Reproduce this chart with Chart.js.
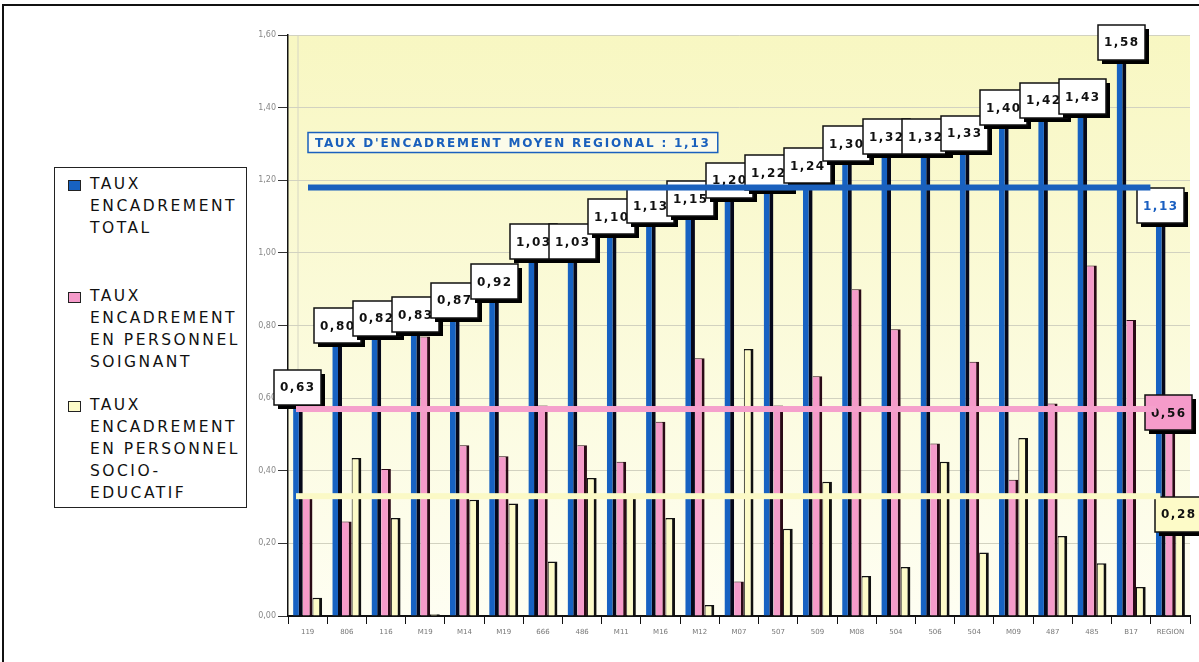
<!DOCTYPE html>
<html>
<head>
<meta charset="utf-8">
<script src="https://cdn.jsdelivr.net/npm/chart.js@4.4.0/dist/chart.umd.min.js"></script>
<style>
  html, body { margin: 0; padding: 0; background: #fff; overflow: hidden; }
  #cadre { position: absolute; left: 2px; top: 4px; width: 1210px; height: 700px; z-index: 5;
           border-left: 2px solid #111; border-top: 2px solid #111; pointer-events: none; }
  #zone { position: absolute; left: 0; top: 0; width: 1199px; height: 662px; }
  #legende { position: absolute; left: 54px; top: 167px; width: 193px; height: 341px;
             border: 1.5px solid #222; background: #fff; box-sizing: border-box; }
  .item { position: absolute; left: 0; }
  .carre { position: absolute; left: 13px; top: 7px; width: 11px; height: 9px; border: 1px solid #222; }
  .texte { position: absolute; left: 35px; top: 0; font-family: "DejaVu Sans", sans-serif;
           font-size: 15.5px; line-height: 22px; letter-spacing: 2.5px; color: #111; white-space: nowrap; }
</style>
</head>
<body>
<div id="zone"><canvas id="graf" width="1199" height="662"></canvas></div>
<div id="legende"></div>
<div id="cadre"></div>
<script>
// etablissements
const categorias = ['119','806','116','M19','M14','M19','666','486','M11','M16','M12','M07',
  '507','509','M08','504','506','504','M09','487','485','B17','REGION'];
// taux d'encadrement
const tauxTotal = [0.63,0.80,0.82,0.83,0.87,0.92,1.03,1.03,1.10,1.13,1.15,1.20,
  1.22,1.24,1.30,1.32,1.32,1.33,1.40,1.42,1.43,1.58,1.13];
const tauxSoignant = [0.33,0.26,0.405,0.77,0.47,0.44,0.58,0.47,0.425,0.535,0.71,0.095,
  0.58,0.66,0.90,0.79,0.475,0.70,0.375,0.585,0.965,0.815,0.56];
const tauxSocio = [0.05,0.435,0.27,0.005,0.32,0.31,0.15,0.38,0.33,0.27,0.03,0.735,
  0.24,0.37,0.11,0.135,0.425,0.175,0.49,0.22,0.145,0.08,0.28];
// lignes des moyennes regionales (total, soignant, socio-educatif)
const moyennes = [1.18, 0.57, 0.33];
const titreMoyenne = "TAUX D'ENCADREMENT MOYEN REGIONAL : 1,13";
const nomsSeries = [
  ['TAUX', 'ENCADREMENT', 'TOTAL'],
  ['TAUX', 'ENCADREMENT', 'EN PERSONNEL', 'SOIGNANT'],
  ['TAUX', 'ENCADREMENT', 'EN PERSONNEL', 'SOCIO-', 'EDUCATIF']
];
const ticksY = [0, 0.2, 0.4, 0.6, 0.8, 1.0, 1.2, 1.4, 1.6];

const bleu = '#1762c2';
const rose = '#f59bca';
const jaune = '#fdfbc8';

function virgule(v) {
  return v.toFixed(2).replace('.', ',');
}

// legende en html
function legende() {
  const boite = document.getElementById('legende');
  const couleurs = [bleu, rose, jaune];
  const hauts = [5, 117, 226];
  nomsSeries.forEach((lignes, i) => {
    const item = document.createElement('div');
    item.className = 'item';
    item.style.top = hauts[i] + 'px';
    const carre = document.createElement('div');
    carre.className = 'carre';
    carre.style.background = couleurs[i];
    const texte = document.createElement('div');
    texte.className = 'texte';
    texte.innerHTML = lignes.join('<br>');
    item.appendChild(carre);
    item.appendChild(texte);
    boite.appendChild(item);
  });
}

const fond = {
  id: 'fond',
  beforeDraw(chart) {
    const ctx = chart.ctx;
    const a = chart.chartArea;
    ctx.save();
    ctx.fillStyle = '#fff';
    ctx.fillRect(0, 0, chart.width, chart.height);
    const g = ctx.createLinearGradient(0, a.top, 0, a.bottom);
    g.addColorStop(0, '#f8f7c2');
    g.addColorStop(1, '#fefef2');
    ctx.fillStyle = g;
    ctx.fillRect(a.left, a.top, a.right - a.left, a.bottom - a.top);
    ctx.strokeStyle = '#d6d6c4';
    ctx.lineWidth = 1;
    ctx.beginPath();
    ctx.moveTo(a.left + 10, a.top);
    ctx.lineTo(a.left + 10, a.bottom);
    ctx.stroke();
    ctx.restore();
  }
};

function boite(ctx, cx, cy, txt, bg, fg) {
  const w = 47, h = 35;
  const x = Math.round(cx - w / 2), y = Math.round(cy - h / 2);
  ctx.fillStyle = '#000';
  ctx.fillRect(x + 4, y + 4, w, h);
  ctx.fillStyle = bg;
  ctx.fillRect(x, y, w, h);
  ctx.strokeStyle = '#111';
  ctx.lineWidth = 1.5;
  ctx.strokeRect(x, y, w, h);
  ctx.save();
  ctx.beginPath();
  ctx.rect(x, y, w, h);
  ctx.clip();
  ctx.fillStyle = fg;
  ctx.font = 'bold 12px "DejaVu Sans"';
  ctx.letterSpacing = '1.5px';
  ctx.textBaseline = 'middle';
  ctx.textAlign = 'left';
  ctx.fillText(txt, x + 6, cy + 1);
  ctx.restore();
}

const etiquettes = {
  id: 'etiquettes',
  afterDatasetsDraw(chart) {
    const ctx = chart.ctx;
    const a = chart.chartArea;
    const ys = chart.scales.y;
    const xs = chart.scales.x;
    const n = categorias.length;
    ctx.save();
    // boites des valeurs totales
    const barres = chart.getDatasetMeta(0).data;
    barres.forEach((b, i) => {
      const reg = i === n - 1;
      boite(ctx, b.x, ys.getPixelForValue(tauxTotal[i]), virgule(tauxTotal[i]), '#fff', reg ? '#1a5fc0' : '#111');
    });
    // boites region soignant / socio
    const bR = chart.getDatasetMeta(1).data[n - 1];
    boite(ctx, bR.x - 2, ys.getPixelForValue(tauxSoignant[n - 1]), virgule(tauxSoignant[n - 1]), rose, '#111');
    const bJ = chart.getDatasetMeta(2).data[n - 1];
    boite(ctx, bJ.x - 2, ys.getPixelForValue(tauxSocio[n - 1]), virgule(tauxSocio[n - 1]), jaune, '#111');

    // lignes des moyennes
    const xReg = xs.getPixelForValue(n - 1);
    const lignes = [
      { v: moyennes[0], c: '#1a60bd', x0: a.left + 20, x1: xReg - 20 },
      { v: moyennes[1], c: '#f5a0cc', x0: a.left + 8, x1: xReg - 14 },
      { v: moyennes[2], c: '#fbf9c6', x0: a.left + 8, x1: xReg - 10 }
    ];
    lignes.forEach(l => {
      const y = ys.getPixelForValue(l.v);
      ctx.fillStyle = l.c;
      ctx.fillRect(l.x0, y - 3, l.x1 - l.x0, 6);
    });

    // cartouche du titre
    const yT = ys.getPixelForValue(moyennes[0]) - 45;
    ctx.font = 'bold 12px "DejaVu Sans"';
    ctx.letterSpacing = '1.8px';
    const lw = ctx.measureText(titreMoyenne).width;
    const x0 = a.left + 20;
    ctx.fillStyle = '#fbfbea';
    ctx.fillRect(x0, yT - 10, lw + 14, 20);
    ctx.strokeStyle = '#1a60bd';
    ctx.lineWidth = 1.5;
    ctx.strokeRect(x0, yT - 10, lw + 14, 20);
    ctx.fillStyle = '#1a60bd';
    ctx.textBaseline = 'middle';
    ctx.textAlign = 'left';
    ctx.fillText(titreMoyenne, x0 + 7, yT + 1);
    ctx.restore();
  }
};

function graficar() {
  const ctx = document.getElementById('graf');
  return new Chart(ctx, {
    type: 'bar',
    data: {
      labels: categorias,
      datasets: [
        {
          label: 'TAUX ENCADREMENT TOTAL',
          data: tauxTotal,
          backgroundColor: bleu,
          borderColor: '#06081a',
          borderWidth: { top: 0, right: 4, bottom: 0, left: 0 },
          borderSkipped: false
        },
        {
          label: 'TAUX ENCADREMENT EN PERSONNEL SOIGNANT',
          data: tauxSoignant,
          backgroundColor: rose,
          borderColor: '#2a0a16',
          borderWidth: { top: 1, right: 3, bottom: 0, left: 0 },
          borderSkipped: false
        },
        {
          label: 'TAUX ENCADREMENT EN PERSONNEL SOCIO-EDUCATIF',
          data: tauxSocio,
          backgroundColor: jaune,
          borderColor: '#111',
          borderWidth: { top: 1.5, right: 3, bottom: 0, left: 1 },
          borderSkipped: false
        }
      ]
    },
    options: {
      responsive: false,
      animation: false,
      events: [],
      layout: { padding: { top: 35, right: 9, left: 0, bottom: 0 } },
      datasets: { bar: { barPercentage: 1.0, categoryPercentage: 0.74 } },
      plugins: {
        legend: { display: false },
        tooltip: { enabled: false },
        title: { display: false }
      },
      scales: {
        x: {
          afterFit(s) { s.height = 46; },
          grid: { drawOnChartArea: false, drawTicks: true, tickLength: 8, tickColor: '#111', offset: true },
          border: { color: '#111', width: 2 },
          ticks: { color: '#777', font: { family: 'DejaVu Sans', size: 7 }, padding: 4, maxRotation: 0, autoSkip: false }
        },
        y: {
          min: 0,
          max: 1.6,
          afterFit(s) { s.width = 288; },
          afterBuildTicks(s) { s.ticks = ticksY.map(v => ({ value: v })); },
          grid: { color: '#d2d2c0', lineWidth: 1, tickColor: '#333', tickLength: 10 },
          border: { color: '#111', width: 1.5 },
          ticks: {
            color: '#888',
            font: { family: 'DejaVu Sans', size: 8 },
            padding: 2,
            callback: v => virgule(v)
          }
        }
      }
    },
    plugins: [fond, etiquettes]
  });
}

legende();
graficar();
</script>
</body>
</html>
